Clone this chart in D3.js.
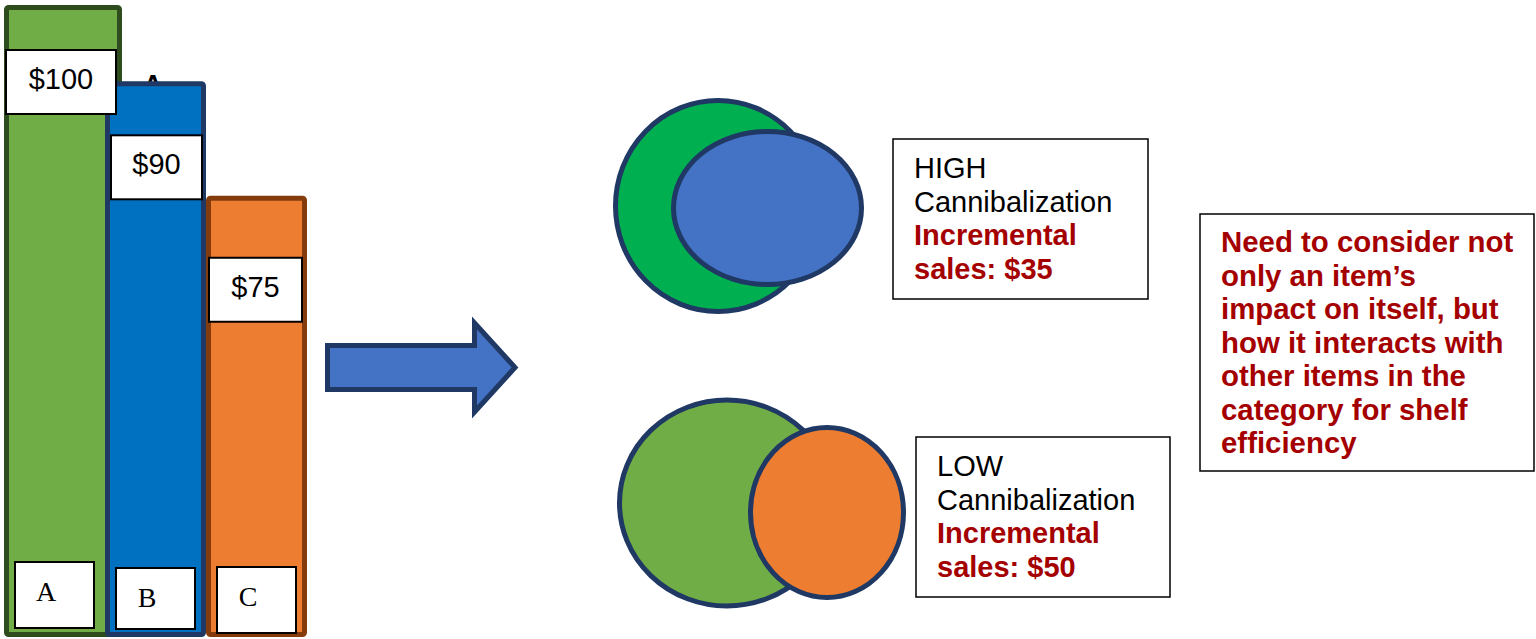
<!DOCTYPE html>
<html>
<head>
<meta charset="utf-8">
<script src="https://cdn.jsdelivr.net/npm/d3@7"></script>
<style>
  html, body { margin: 0; padding: 0; background: #fff; overflow: hidden; }
</style>
</head>
<body>
<div id="chart"></div>
<script>
// data
const categories = ['A', 'B', 'C'];
const sales = [100, 90, 75];
const scenarios = ['HIGH', 'LOW'];
const incremental = [35, 50];
const noteLines = [
    'Need to consider not',
    'only an item\u2019s',
    'impact on itself, but',
    'how it interacts with',
    'other items in the',
    'category for shelf',
    'efficiency'
];

const width = 1536;
const height = 639;
const sans = '"Liberation Sans", Arial, sans-serif';
const serif = '"Liberation Serif", "Times New Roman", serif';
const darkRed = '#A50000';
const navy = '#1F3864';

const barFill = ['#70AD47', '#0070C0', '#ED7D31'];
const barEdge = ['#2E4C1E', '#1F3864', '#843C0C'];
const barSpill = [17, 0, 0];
const barBottom = 637;
const sw = 5;

const svg = d3.select('#chart')
    .append('svg')
    .attr('width', width)
    .attr('height', height);

svg.append('rect').attr('width', width).attr('height', height).attr('fill', '#fff');

const x = d3.scaleBand().domain(categories).range([4, 307]).paddingInner(0);
const y = d3.scaleLinear().domain([0, 100]).range([768, 5]);

const bars = categories.map((c, i) => ({ cat: c, value: sales[i], i }));

// stray letter peeking out behind bar B
svg.append('text')
    .attr('x', 153).attr('y', 93)
    .attr('text-anchor', 'middle')
    .attr('font-family', sans)
    .attr('font-weight', 'bold')
    .attr('font-size', 26)
    .attr('fill', '#000')
    .text('A');

svg.selectAll('.bar')
    .data(bars)
    .enter().append('rect')
    .attr('class', 'bar')
    .attr('x', d => x(d.cat) + sw / 2)
    .attr('y', d => y(d.value) + sw / 2)
    .attr('width', d => x.bandwidth() + barSpill[d.i] - sw)
    .attr('height', d => barBottom - y(d.value) - sw)
    .attr('rx', 2)
    .attr('fill', d => barFill[d.i])
    .attr('stroke', d => barEdge[d.i])
    .attr('stroke-width', sw);

// value labels
const valDx = [2, 6, 3];
const valW = [110, 91, 93];
const valDy = [45, 54, 62];
const vals = svg.selectAll('.val')
    .data(bars)
    .enter().append('g')
    .attr('class', 'val')
    .attr('transform', d => `translate(${x(d.cat) + valDx[d.i]},${y(d.value) + valDy[d.i]})`);

vals.append('rect')
    .attr('width', d => valW[d.i])
    .attr('height', 64)
    .attr('fill', '#fff')
    .attr('stroke', '#000')
    .attr('stroke-width', 2);

vals.append('text')
    .attr('x', d => valW[d.i] / 2)
    .attr('y', 39)
    .attr('text-anchor', 'middle')
    .attr('font-family', sans)
    .attr('font-size', 29)
    .attr('fill', '#000')
    .text(d => '$' + d.value);

// category labels at the foot of the bars
const catTop = [562, 568, 567];
const catH = [66, 61, 66];
const cats = svg.selectAll('.cat')
    .data(bars)
    .enter().append('g')
    .attr('class', 'cat')
    .attr('transform', d => `translate(${x(d.cat) + 11},${catTop[d.i]})`);

cats.append('rect')
    .attr('width', 79)
    .attr('height', d => catH[d.i])
    .attr('fill', '#fff')
    .attr('stroke', '#000')
    .attr('stroke-width', 2);

cats.append('text')
    .attr('x', 31)
    .attr('y', 39)
    .attr('text-anchor', 'middle')
    .attr('font-family', serif)
    .attr('font-size', 28)
    .attr('fill', '#000')
    .text(d => d.cat);

// arrow
const arrowPts = [
    [327.5, 345.5], [474.5, 345.5], [474.5, 323], [515, 367.5],
    [474.5, 412], [474.5, 389.5], [327.5, 389.5]
];
svg.append('path')
    .attr('d', d3.line()(arrowPts) + 'Z')
    .attr('fill', '#4472C4')
    .attr('stroke', navy)
    .attr('stroke-width', sw)
    .attr('stroke-linejoin', 'miter');

// overlap diagrams
const venn = [
    [
        { cx: 718, cy: 206, rx: 102.5, ry: 105.5, fill: '#00B050' },
        { cx: 767.5, cy: 208, rx: 94, ry: 76.5, fill: '#4472C4' }
    ],
    [
        { cx: 727, cy: 503, rx: 107.5, ry: 103, fill: '#70AD47' },
        { cx: 827, cy: 512.5, rx: 76.5, ry: 85, fill: '#ED7D31' }
    ]
];
venn.forEach(pair => {
    svg.append('g').selectAll('ellipse')
        .data(pair)
        .enter().append('ellipse')
        .attr('cx', d => d.cx)
        .attr('cy', d => d.cy)
        .attr('rx', d => d.rx)
        .attr('ry', d => d.ry)
        .attr('fill', d => d.fill)
        .attr('stroke', navy)
        .attr('stroke-width', sw);
});

// scenario boxes
const boxPos = [{ x: 893, y: 139, w: 255 }, { x: 916, y: 437, w: 254 }];
const pitch = 33.5;
scenarios.forEach((s, i) => {
    const g = svg.append('g').attr('transform', `translate(${boxPos[i].x},${boxPos[i].y})`);
    g.append('rect')
        .attr('width', boxPos[i].w).attr('height', 160)
        .attr('fill', '#fff').attr('stroke', '#000').attr('stroke-width', 1.5);
    const lines = [
        { t: s, bold: false },
        { t: 'Cannibalization', bold: false },
        { t: 'Incremental', bold: true },
        { t: 'sales: $' + incremental[i], bold: true }
    ];
    g.selectAll('text')
        .data(lines)
        .enter().append('text')
        .attr('x', 21)
        .attr('y', (d, j) => 39 + j * pitch)
        .attr('font-family', sans)
        .attr('font-size', 29)
        .attr('font-weight', d => d.bold ? 'bold' : 'normal')
        .attr('fill', d => d.bold ? darkRed : '#000')
        .text(d => d.t);
});

// takeaway note
const note = svg.append('g').attr('transform', 'translate(1200,214)');
note.append('rect')
    .attr('width', 334).attr('height', 257)
    .attr('fill', '#fff').attr('stroke', '#000').attr('stroke-width', 1.5);
note.selectAll('text')
    .data(noteLines)
    .enter().append('text')
    .attr('x', 21)
    .attr('y', (d, j) => 38 + j * pitch)
    .attr('font-family', sans)
    .attr('font-size', 29.4)
    .attr('font-weight', 'bold')
    .attr('fill', darkRed)
    .text(d => d);
</script>
</body>
</html>
